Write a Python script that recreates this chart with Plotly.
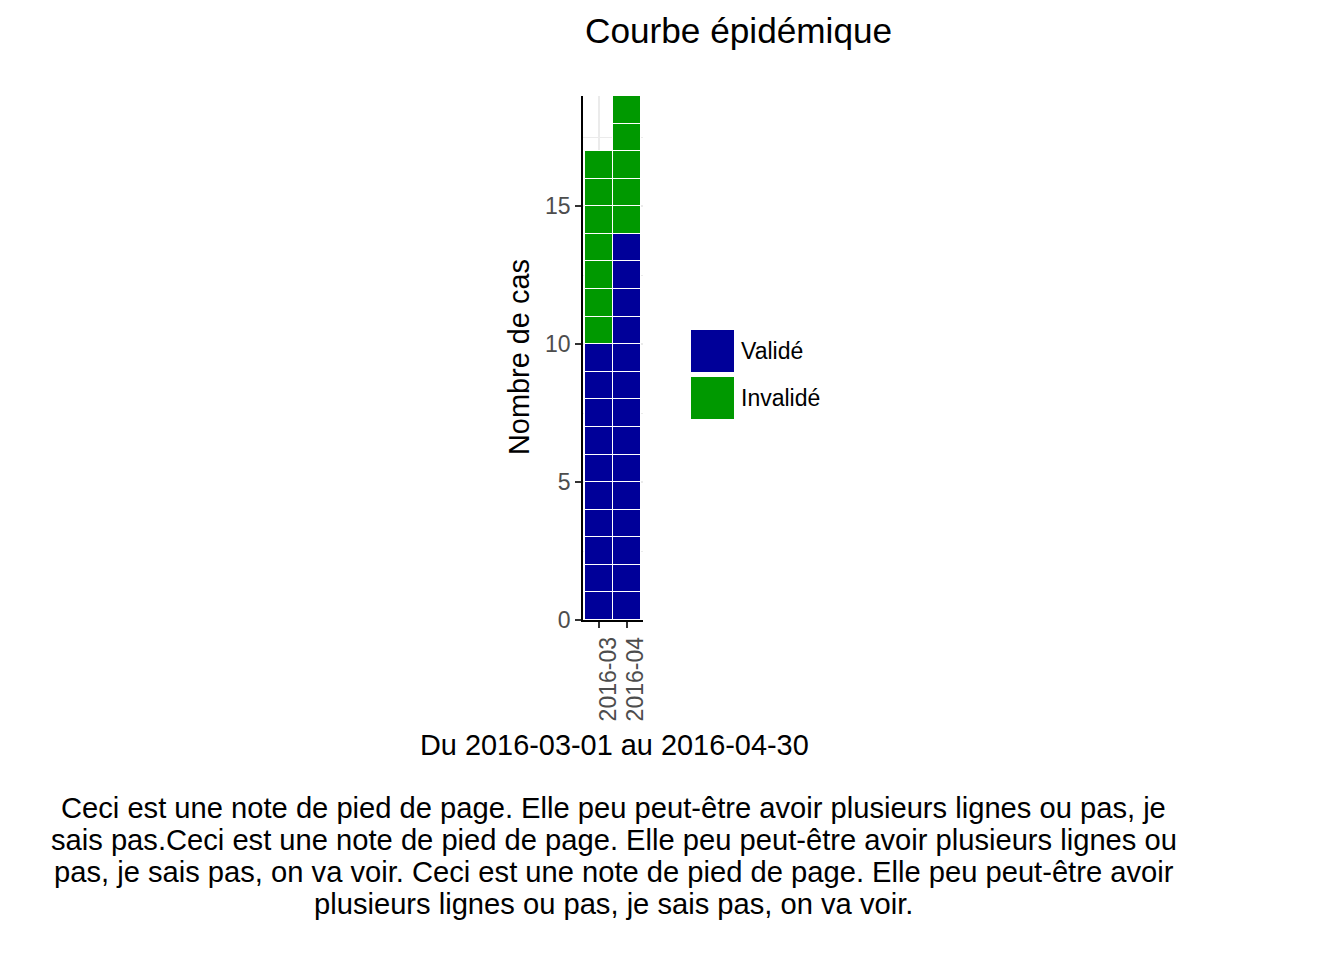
import plotly.graph_objects as go

# ---- data ----
mois = ["2016-03", "2016-04"]
valide = [10, 14]
invalide = [7, 5]
statuts = ["Validé", "Invalidé"]
couleurs = ["#000099", "#009900"]
titre = "Courbe épidémique"
titre_x = "Du 2016-03-01 au 2016-04-30"
titre_y = "Nombre de cas"
note_lignes = [
    "Ceci est une note de pied de page. Elle peu peut-être avoir plusieurs lignes ou pas, je",
    "sais pas.Ceci est une note de pied de page. Elle peu peut-être avoir plusieurs lignes ou",
    "pas, je sais pas, on va voir. Ceci est une note de pied de page. Elle peu peut-être avoir",
    "plusieurs lignes ou pas, je sais pas, on va voir.",
]
y_ticks = [0, 5, 10, 15]

W, H = 1344, 960
L, R, T, B = 583, 643, 96, 620  # plot area in pixels
FONT = "Liberation Sans, Arial, sans-serif"


def px(x):
    return (x - L) / (R - L)


def py(y):
    return (B - y) / (B - T)


fig = go.Figure()
for statut, comptes, coul in zip(statuts, [valide, invalide], couleurs):
    for i in range(max(comptes)):
        fig.add_trace(go.Bar(
            x=mois,
            y=[1 if i < c else None for c in comptes],
            name=statut,
            legendgroup=statut,
            showlegend=False,
            marker=dict(color=coul, line=dict(color="white", width=1.5)),
            width=1.0,
        ))

annotations = [
    dict(text=titre, x=px(738.5), y=py(30), font=dict(size=35.2, color="black")),
    dict(text=titre_x, x=px(614), y=py(745), font=dict(size=28.9, color="black")),
    dict(text=titre_y, x=px(519), y=py(357), textangle=-90, font=dict(size=28.9, color="black")),
]
for k, ligne in enumerate(note_lignes):
    annotations.append(dict(text=ligne, x=px(613.5), y=py(808 + 32 * k),
                            font=dict(size=29.15, color="black")))

shapes = []
leg_y = [(330, 372), (377, 419)]
for (y0, y1), statut, coul in zip(leg_y, statuts, couleurs):
    shapes.append(dict(type="rect", xref="paper", yref="paper",
                       x0=px(691), x1=px(734), y0=py(y1), y1=py(y0),
                       fillcolor=coul, line=dict(width=0)))
    annotations.append(dict(text=statut, x=px(739), y=py((y0 + y1) / 2),
                            xanchor="left", font=dict(size=23, color="black")))

for a in annotations:
    a.setdefault("xanchor", "center")
    a.update(xref="paper", yref="paper", showarrow=False, yanchor="middle")
    a["font"]["family"] = FONT

fig.update_layout(
    width=W, height=H,
    margin=dict(l=L, r=W - R, t=T, b=H - B, pad=0),
    paper_bgcolor="white", plot_bgcolor="white",
    barmode="stack", bargap=0,
    showlegend=False,
    font=dict(family=FONT),
    annotations=annotations,
    shapes=shapes,
)
fig.update_xaxes(
    type="category", range=[-0.59, 1.59],
    tickmode="array", tickvals=mois, ticktext=mois,
    showline=True, linecolor="black", linewidth=1.6,
    ticks="outside", ticklen=6, tickwidth=1.6, tickcolor="#333333",
    tickangle=-90, tickfont=dict(size=23, color="#4D4D4D", family=FONT),
    ticklabelshift=9,
    showgrid=True, gridcolor="#EBEBEB", gridwidth=1.8,
    zeroline=False,
)
fig.update_yaxes(
    range=[0, 19], tickvals=y_ticks,
    showline=True, linecolor="black", linewidth=1.6,
    ticks="outside", ticklen=6, tickwidth=1.6, tickcolor="#333333",
    tickfont=dict(size=23, color="#4D4D4D", family=FONT),
    showgrid=True, gridcolor="#EBEBEB", gridwidth=1.8,
    minor=dict(dtick=2.5, tick0=0, showgrid=True, gridcolor="#EBEBEB", gridwidth=1),
    zeroline=False,
)

fig.write_html("out.html")
